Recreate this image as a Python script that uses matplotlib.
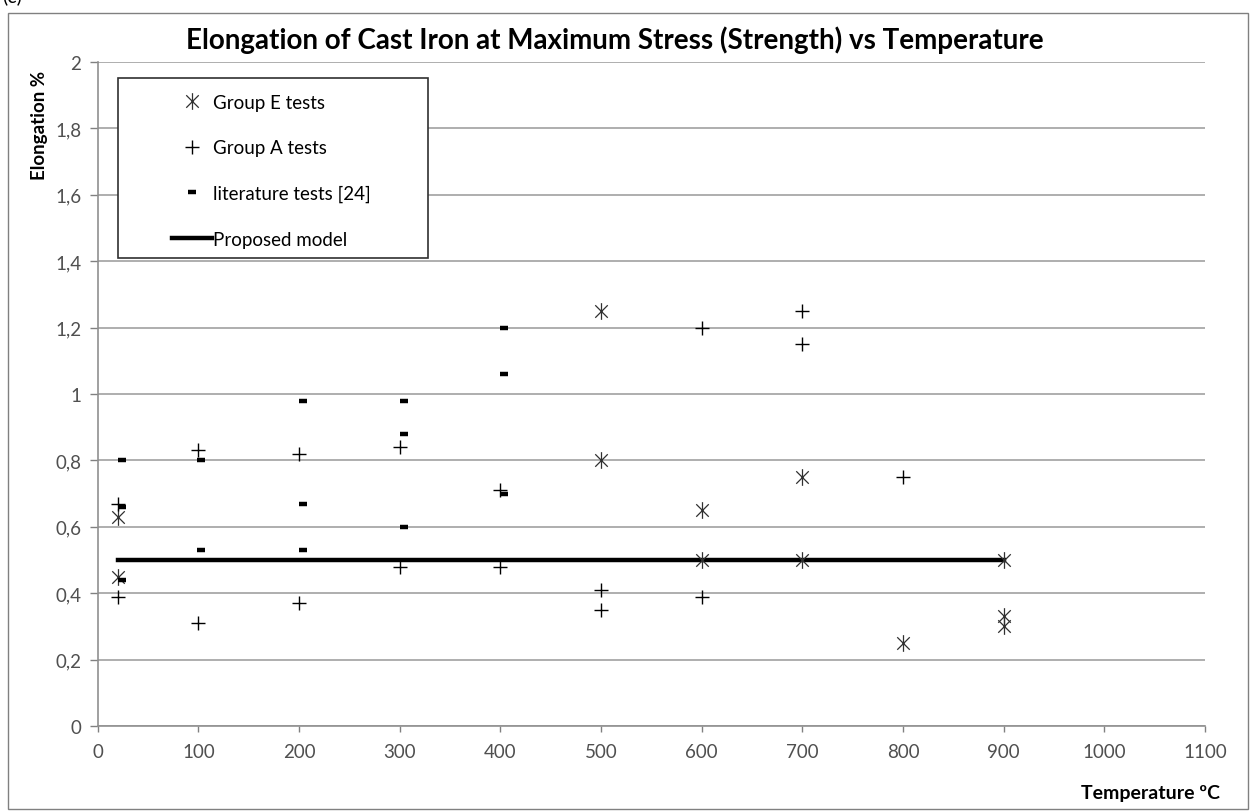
import matplotlib.pyplot as plt
from matplotlib.patches import Rectangle
from matplotlib.path import Path

plt.rcParams['font.family'] = ['Lato', 'DejaVu Sans']

# Group E tests (asterisk markers)
group_e_temp = [20, 20, 500, 500, 600, 600, 700, 700, 800, 900, 900, 900]
group_e_elong = [0.63, 0.45, 1.25, 0.80, 0.65, 0.50, 0.75, 0.50, 0.25, 0.50, 0.33, 0.30]

# Group A tests (plus markers)
group_a_temp = [20, 20, 100, 100, 200, 200, 300, 300, 400, 400, 500, 500, 600, 600, 700, 700, 800]
group_a_elong = [0.67, 0.39, 0.83, 0.31, 0.82, 0.37, 0.84, 0.48, 0.71, 0.48, 0.41, 0.35, 1.20, 0.39, 1.25, 1.15, 0.75]

# literature tests [24] (dash markers)
lit_temp = [24, 24, 24, 103, 103, 204, 204, 204, 304, 304, 304, 404, 404, 404]
lit_elong = [0.80, 0.66, 0.44, 0.80, 0.53, 0.98, 0.67, 0.53, 0.98, 0.88, 0.60, 1.20, 1.06, 0.70]

# Proposed model
model_temp = [20, 900]
model_elong = [0.5, 0.5]

x_ticks = list(range(0, 1101, 100))
y_ticks = [0, 0.2, 0.4, 0.6, 0.8, 1.0, 1.2, 1.4, 1.6, 1.8, 2.0]
y_tick_labels = ['0', '0,2', '0,4', '0,6', '0,8', '1', '1,2', '1,4', '1,6', '1,8', '2']

# excel style star: X with a vertical bar
star = Path([(-0.75, -0.75), (0.75, 0.75), (-0.75, 0.75), (0.75, -0.75), (0, -1), (0, 1)],
            [Path.MOVETO, Path.LINETO, Path.MOVETO, Path.LINETO, Path.MOVETO, Path.LINETO])

fig = plt.figure(figsize=(12.54, 8.12), dpi=100)
ax = fig.add_axes([0.078, 0.1047, 0.883, 0.8177])

# outer chart border
fig.patches.append(Rectangle((0.0065, 0.003), 0.9885, 0.9797, transform=fig.transFigure,
                             fill=False, edgecolor='#808080', linewidth=1.0))
fig.text(0.002, 0.994, '(c)', fontsize=14, va='bottom', ha='left')

ax.plot(model_temp, model_elong, color='black', linewidth=3.2, label='Proposed model', zorder=3)
ax.plot(group_e_temp, group_e_elong, linestyle='none', marker=star, markersize=12,
        markeredgewidth=0.9, color='#303030', label='Group E tests', zorder=4)
ax.plot(group_a_temp, group_a_elong, linestyle='none', marker='+', markersize=10,
        markeredgewidth=1.0, color='black', label='Group A tests', zorder=4)
ax.plot(lit_temp, lit_elong, linestyle='none', marker='_', markersize=6,
        markeredgewidth=3.2, color='black', label='literature tests [24]', zorder=4)

ax.set_xlim(0, 1100)
ax.set_ylim(0, 2)
ax.set_xticks(x_ticks)
ax.set_yticks(y_ticks)
ax.set_yticklabels(y_tick_labels)
ax.tick_params(axis='both', colors='#808080', labelcolor='#505050', labelsize=13.5, width=1)
ax.tick_params(axis='x', length=4, pad=8)
ax.tick_params(axis='y', length=6, pad=6)
ax.grid(axis='y', color='#a8a8a8', linewidth=1.3)
ax.set_axisbelow(True)
for side in ['top', 'right']:
    ax.spines[side].set_visible(False)
for side in ['left', 'bottom']:
    ax.spines[side].set_color('#909090')
    ax.spines[side].set_linewidth(1.2)

# legend box and entries
ax.add_patch(Rectangle((0.018, 0.705), 0.28, 0.271, transform=ax.transAxes,
                       facecolor='white', edgecolor='#303030', linewidth=1.2, zorder=5))
h, l = ax.get_legend_handles_labels()
order = [1, 2, 3, 0]
leg = ax.legend([h[i] for i in order], [l[i] for i in order], loc='upper left',
                bbox_to_anchor=(0.0668, 0.952), frameon=False, fontsize=13.5, borderpad=0,
                borderaxespad=0, handlelength=2.13, handletextpad=0.05, labelspacing=1.52,
                numpoints=1)
leg.set_zorder(6)

fig.text(0.49, 0.95, 'Elongation of Cast Iron at Maximum Stress (Strength) vs Temperature',
         fontsize=20, fontweight='bold', ha='center', va='center')
fig.text(0.0315, 0.846, 'Elongation %', fontsize=13.5, fontweight='bold', rotation=90,
         ha='center', va='center')
fig.text(0.973, 0.023, 'Temperature ºC', fontsize=14, fontweight='bold', ha='right', va='center')

fig.savefig('out.png', dpi=100)
